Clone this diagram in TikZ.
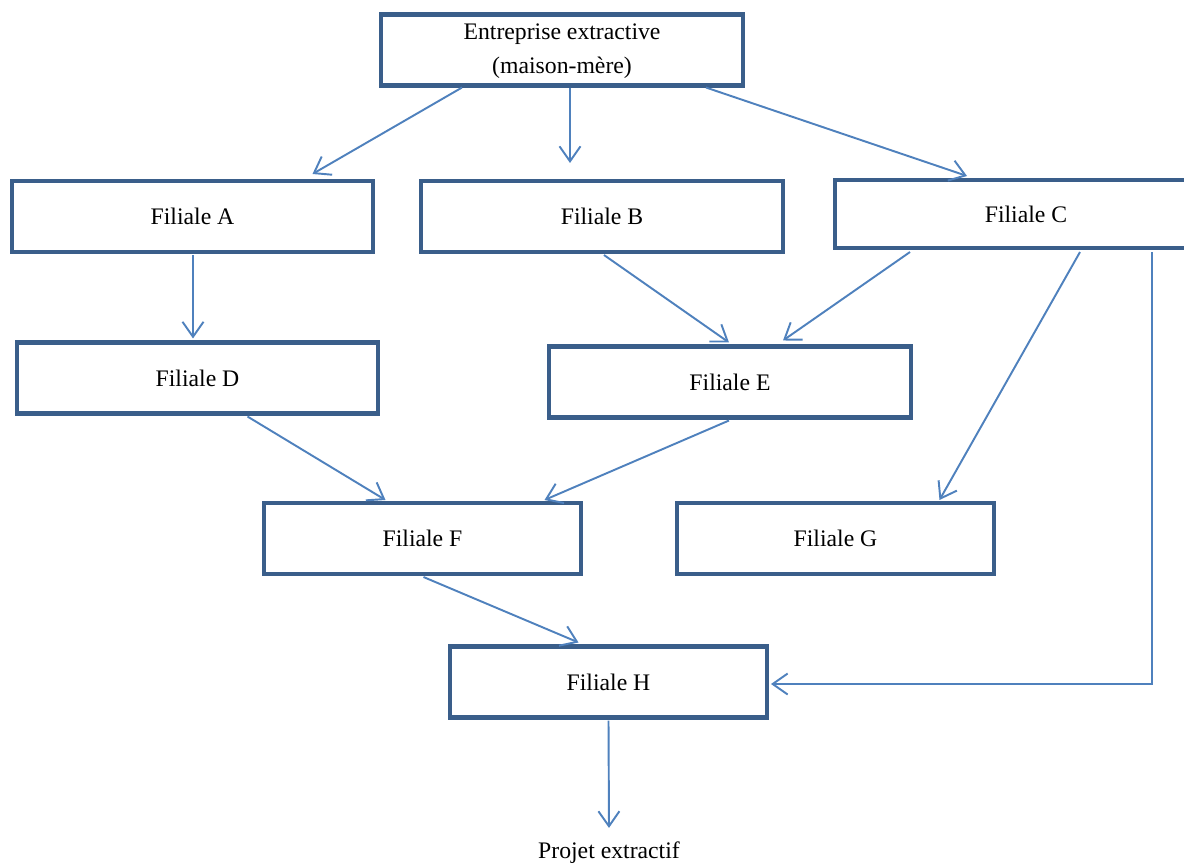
\documentclass[tikz,border=0pt]{standalone}
\usepackage{fontspec}
\setmainfont{Liberation Serif}
\usetikzlibrary{arrows.meta, calc, positioning}

\definecolor{boxblue}{RGB}{58,94,138}
\definecolor{linkblue}{RGB}{79,129,189}

\begin{document}
\begin{tikzpicture}[
                x=0.02cm, y=-0.02cm,
                every node/.style={font=\fontsize{13.5}{19}\selectfont},
                filiale/.style={rectangle, minimum width=7.24cm, minimum height=1.42cm, draw=boxblue, line width=2.3pt, fill=white, align=center},
                smallfiliale/.style={filiale, minimum width=6.34cm},
                arrow/.style={draw=linkblue, line width=1.1pt, -{Straight Barb[length=3mm, width=4.2mm, line width=1.1pt]}}
            ]
                \useasboundingbox (0,0) rectangle (1184,866);

                % Nodes
                \node (parent) [filiale] at (562,50) {\raisebox{-0.12cm}[0pt][0pt]{\begin{tabular}{@{}c@{}}Entreprise extractive\\(maison-mère)\end{tabular}}};
                \node (filA) [filiale] at (192.5,216.5) {Filiale A};
                \node (filB) [filiale] at (602,216.5) {Filiale B};
                \node (filC) [filiale, minimum width=7.64cm, minimum height=1.36cm] at (1026,214) {Filiale C};
                \node (filD) [filiale] at (197.5,378) {Filiale D};
                \node (filE) [filiale] at (730,382) {Filiale E};
                \node (filF) [smallfiliale] at (422.5,538.5) {Filiale F};
                \node (filG) [smallfiliale] at (835.5,538.5) {Filiale G};
                \node (filH) [smallfiliale] at (608.5,682) {Filiale H};
                \node (projet) at (609,853) {Projet extractif};

                % Arrows
                \draw [arrow] ($(parent.south)+(-100,0)$) -- ($(filA.north)+(120,-5)$);
                \draw [arrow] ($(parent.south)+(8,0)$) -- ($(filB.north)+(-32,-16)$);
                \draw [arrow] ($(parent.south)+(144,0)$) -- ($(filC.north)+(-59,-2)$);
                \draw [arrow] ($(filA.south)+(0.5,1)$) -- ($(filD.north)+(-4.5,-2)$);
                \draw [arrow] ($(filB.south)+(2,1)$) -- ($(filE.north)+(-1,-2)$);
                \draw [arrow] ($(filC.south)+(-116,2)$) -- ($(filE.north)+(53,-4)$);
                \draw [arrow] ($(filC.south)+(54,2)$) -- ($(filG.north)+(104,-1)$);
                \draw [arrow] ($(filC.south)+(126,2)$) |- ($(filH.east)+(2,2)$);
                \draw [arrow] ($(filD.south)+(50,1)$) -- ($(filF.north)+(-37,-1)$);
                \draw [arrow] ($(filE.south)+(-1,1)$) -- ($(filF.north)+(122,-1)$);
                \draw [arrow] ($(filF.south)+(1,1)$) -- ($(filH.north)+(-30,-2)$);
                \draw [arrow] ($(filH.south)+(0,1)$) -- ($(projet.north)+(0,-8)$);

            \end{tikzpicture}
\end{document}
